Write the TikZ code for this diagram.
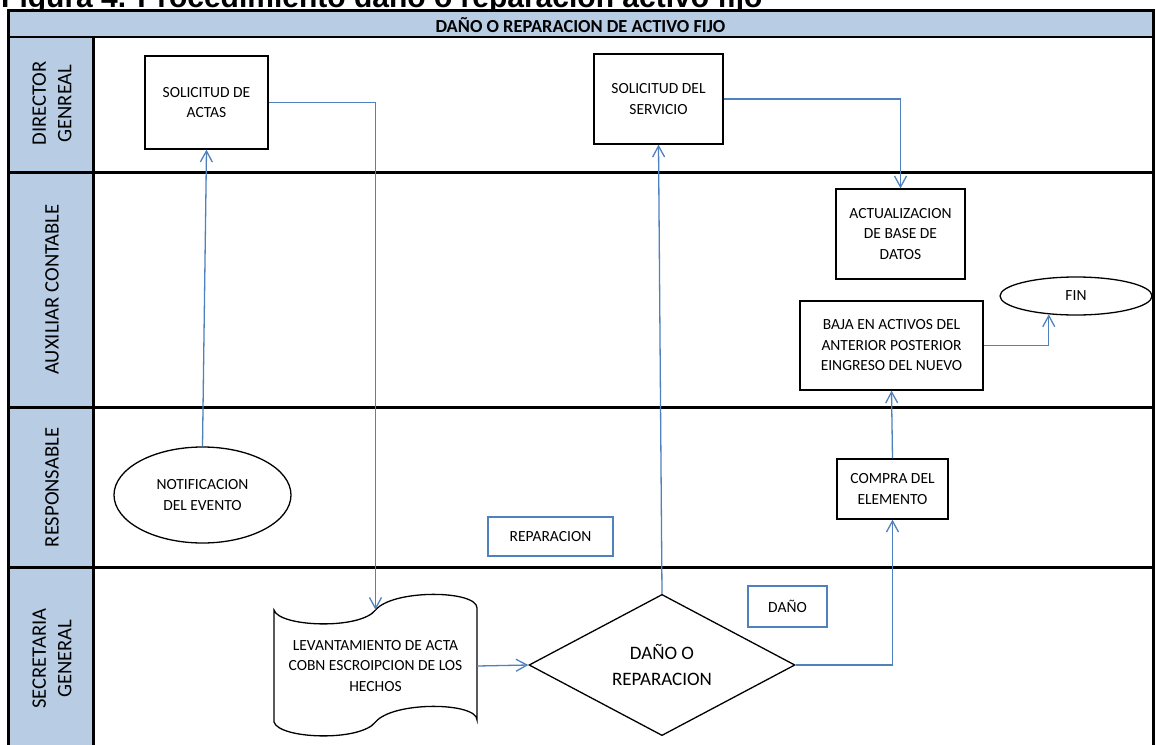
\documentclass[tikz,border=0pt]{standalone}
\usepackage{fontspec}
\setmainfont{Carlito}
\newfontfamily\titlefont{Liberation Sans}
\usetikzlibrary{arrows.meta,shapes.geometric}
\definecolor{lanefill}{HTML}{B8CCE4}
\definecolor{flowblue}{HTML}{4F81BD}

\begin{document}
\begin{tikzpicture}[x=1pt,y=-1pt,
  txt/.style={font=\fontsize{15.5}{20.5}\selectfont, align=center, inner sep=0pt},
  procbox/.style={txt, rectangle, draw=black, line width=1.3pt, fill=white},
  ovalbox/.style={txt, ellipse, draw=black, line width=1.3pt, fill=white},
  tagbox/.style={txt, rectangle, draw=flowblue, line width=1.3pt, fill=white},
  decision/.style={diamond, draw=black, line width=1.3pt, fill=white, inner sep=0pt,
    align=center, font=\fontsize{19}{26}\selectfont},
  lanelabel/.style={rotate=90, align=center, inner sep=0pt, font=\fontsize{20.6}{25.5}\selectfont},
  flow/.style={draw=flowblue, line width=1.3pt, -{Straight Barb[length=11pt,width=12pt]}},
  laneline/.style={line width=2.6pt},
]
\useasboundingbox (0,0) rectangle (1156,744);
\clip (0,0) rectangle (1156,744);

% caption above the pool (its upper part lies outside the page)
\node[anchor=base west, inner sep=0pt, font=\titlefont\bfseries\fontsize{30}{30}\selectfont]
  (caption) at (1,7) {Figura 4. Procedimiento daño o reparación activo fijo};

% pool header and lane label column
\fill[lanefill] (8,10) rectangle (1153,37);
\fill[lanefill] (8,37) rectangle (93,760);
\fill[white] (93,37) rectangle (1153,760);
\node[anchor=base, inner sep=0pt, font=\bfseries\fontsize{18.4}{20}\selectfont]
  (pool) at (580.5,32) {DAÑO O REPARACION DE ACTIVO FIJO};

% lane separators and frame
\draw[laneline] (8,37) -- (1153,37);
\draw[laneline] (8,172.5) -- (1153,172.5);
\draw[laneline] (8,407.5) -- (1153,407.5);
\draw[laneline] (8,567.5) -- (1153,567.5);
\draw[line width=3pt] (93,37) -- (93,760);
\draw[line width=3pt] (8,10) rectangle (1153,760);

% lane names
\node[lanelabel] (ldir) at (52,103.5) {DIRECTOR\\GENREAL};
\node[lanelabel] (laux) at (52,289.5) {AUXILIAR CONTABLE};
\node[lanelabel] (lres) at (52,487.5) {RESPONSABLE};
\node[lanelabel] (lsec) at (52,658.5) {SECRETARIA\\GENERAL};

% activities
\node[procbox, minimum width=123pt, minimum height=93pt] (solact) at (206.5,102.5) {SOLICITUD DE\\ACTAS};
\node[procbox, minimum width=129pt, minimum height=90pt] (solserv) at (658.5,99) {SOLICITUD DEL\\SERVICIO};
\node[procbox, minimum width=129pt, minimum height=90pt] (actual) at (900.5,234) {ACTUALIZACION\\DE BASE DE\\DATOS};
\node[procbox, minimum width=183pt, minimum height=89pt] (baja) at (891.5,345.5) {BAJA EN ACTIVOS DEL\\ANTERIOR POSTERIOR\\EINGRESO DEL NUEVO};
\node[procbox, minimum width=111pt, minimum height=60pt] (compra) at (892.5,489) {COMPRA DEL\\ELEMENTO};
\node[ovalbox, minimum width=152pt, minimum height=38pt] (fin) at (1076,296) {FIN};
\node[ovalbox, minimum width=177pt, minimum height=96pt] (notif) at (202.5,495) {NOTIFICACION\\DEL EVENTO};
\node[tagbox, minimum width=125pt, minimum height=39pt] (trep) at (550.5,536.5) {REPARACION};
\node[tagbox, minimum width=79pt, minimum height=41pt] (tdan) at (787.5,606.5) {DAÑO};
\node[decision, minimum width=266pt, minimum height=136pt] (dia) at (662,665) {DAÑO O\\REPARACION};

% document (record of the event) with wavy top and bottom edges
\draw[line width=1.3pt, fill=white]
  (274,610) .. controls (279,627) and (360,630) .. (375.5,610)
  .. controls (393,589) and (477,590) .. (477,608)
  -- (477,720)
  .. controls (477,702) and (393,701) .. (375.5,722)
  .. controls (360,742) and (279,739) .. (274,722) -- cycle;
\node[txt, minimum width=203pt, minimum height=112pt] (doc) at (375.5,666)
  {LEVANTAMIENTO DE ACTA\\COBN ESCROIPCION DE LOS\\HECHOS};

% flow
\draw[flow] (notif.north) -- (solact.south);
\draw[flow] (solact.east) -| (doc.north);
\draw[flow] (doc.east) -- (dia.west);
\draw[flow] (dia.north) -- (solserv.south);
\draw[flow] (solserv.east) -| (actual.north);
\draw[flow] (dia.east) -| (compra.south);
\draw[flow] (compra.north) -- (baja.south);
\draw[flow] (baja.east) -| (fin.214.5);
\end{tikzpicture}
\end{document}
